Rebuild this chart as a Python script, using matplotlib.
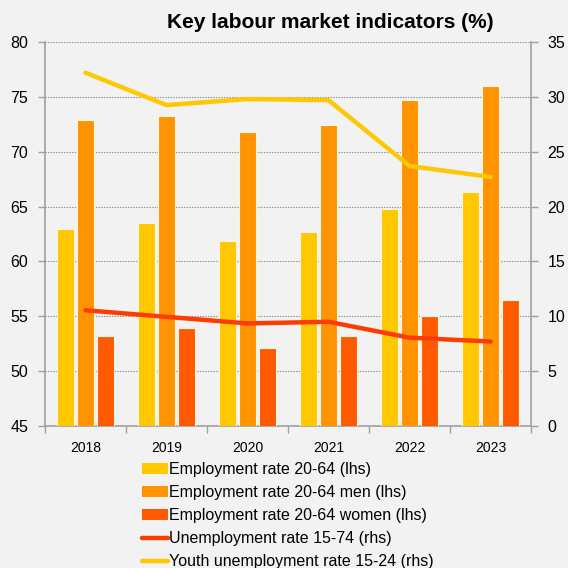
import matplotlib.pyplot as plt
from matplotlib.lines import Line2D
from matplotlib.patches import Patch
import numpy as np

plt.rcParams['font.family'] = ['Liberation Sans', 'DejaVu Sans']

years = ['2018', '2019', '2020', '2021', '2022', '2023']

# employment rates (left axis)
emp_total = [63.0, 63.5, 61.9, 62.7, 64.8, 66.3]
emp_men = [72.9, 73.3, 71.8, 72.4, 74.7, 76.0]
emp_women = [53.2, 53.9, 52.1, 53.2, 55.0, 56.5]

# unemployment rates (right axis)
unemp = [10.55, 9.95, 9.35, 9.5, 8.05, 7.7]
youth_unemp = [32.2, 29.25, 29.8, 29.7, 23.7, 22.7]

c_total = '#FFC800'
c_men = '#FF9300'
c_women = '#FF5A00'
c_unemp = '#FF3C00'
c_youth = '#FFC800'
bg = '#F2F2F2'

fig = plt.figure(figsize=(5.68, 5.68), dpi=100, facecolor=bg)
ax = fig.add_axes([45 / 568, 1 - 426 / 568, 486 / 568, 384 / 568], facecolor=bg)
ax2 = ax.twinx()

x = np.arange(len(years))
w = 0.21
off = 0.245
edge = dict(edgecolor='#FFF4E0', linewidth=0.8)
ax.bar(x - off, emp_total, w, color=c_total, **edge, zorder=3)
ax.bar(x, emp_men, w, color=c_men, **edge, zorder=3)
ax.bar(x + off, emp_women, w, color=c_women, **edge, zorder=3)

ax2.plot(x, unemp, color=c_unemp, lw=3.2, solid_capstyle='round', solid_joinstyle='round', zorder=4)
ax2.plot(x, youth_unemp, color=c_youth, lw=3.2, solid_capstyle='round', solid_joinstyle='round', zorder=4)

ax.set_xlim(-0.5, len(years) - 0.5)
ax.set_ylim(45, 80)
ax.set_yticks(np.arange(45, 81, 5))
ax2.set_ylim(0, 35)
ax2.set_yticks(np.arange(0, 36, 5))

# x ticks sit between the categories, labels in the middle
ax.set_xticks(np.arange(-0.5, len(years), 1.0))
ax.set_xticklabels([])
ax.set_xticks(x, minor=True)
ax.set_xticklabels(years, minor=True)
ax.tick_params(axis='x', which='minor', length=0, pad=11, labelsize=10)
ax.tick_params(axis='x', which='major', length=5, color='#A0A0A0', width=1)
ax.tick_params(axis='y', length=5, color='#A0A0A0', width=1, labelsize=11.5, pad=7)
ax2.tick_params(axis='y', length=5, color='#A0A0A0', width=1, labelsize=11.5, pad=7)

ax.yaxis.grid(True, linestyle=(0, (1.2, 1.2)), color='#8C8C8C', linewidth=0.8, zorder=0)
ax.set_axisbelow(True)

for a in (ax, ax2):
    a.spines['top'].set_visible(False)
    for s in ('left', 'right', 'bottom'):
        a.spines[s].set_color('#A0A0A0')
        a.spines[s].set_linewidth(1.2)
ax.spines['right'].set_visible(False)
ax2.spines['left'].set_visible(False)
ax2.spines['bottom'].set_visible(False)

fig.text(330 / 568, 1 - 23 / 568, 'Key labour market indicators (%)', ha='center', va='center',
         fontsize=15, fontweight='bold')

handles = [
    Patch(facecolor=c_total, edgecolor='none'),
    Patch(facecolor=c_men, edgecolor='none'),
    Patch(facecolor=c_women, edgecolor='none'),
    Line2D([], [], color=c_unemp, lw=3.2, solid_capstyle='round'),
    Line2D([], [], color=c_youth, lw=3.2, solid_capstyle='round'),
]
labels = ['Employment rate 20-64 (lhs)', 'Employment rate 20-64 men (lhs)',
          'Employment rate 20-64 women (lhs)', 'Unemployment rate 15-74 (rhs)',
          'Youth unemployment rate 15-24 (rhs)']
fig.legend(handles, labels, loc='upper left', bbox_to_anchor=(142 / 568, 1 - 462 / 568),
           frameon=False, fontsize=11.5, handlelength=1.6, handleheight=0.62,
           handletextpad=0.12, labelspacing=0.5, borderpad=0, borderaxespad=0)

fig.savefig('out.png', dpi=100, facecolor=bg)
